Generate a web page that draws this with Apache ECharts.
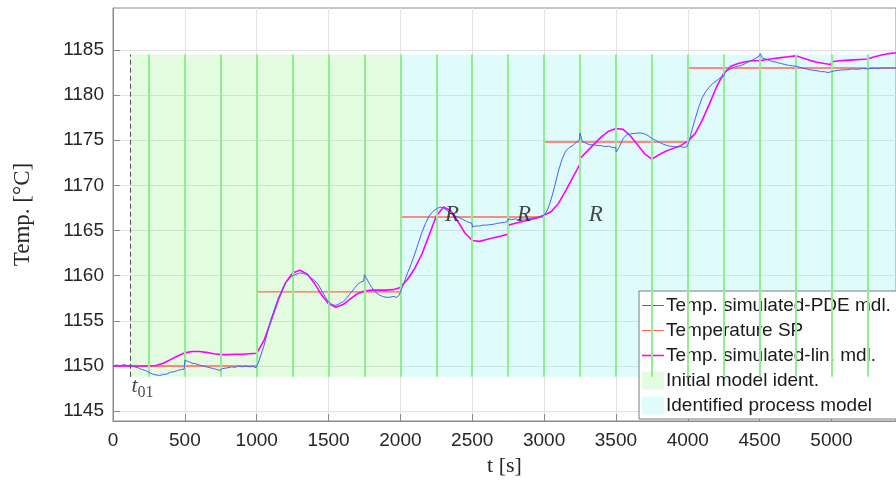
<!DOCTYPE html>
<html>
<head>
<meta charset="utf-8">
<script src="https://cdn.jsdelivr.net/npm/echarts@6/dist/echarts.min.js"></script>
<style>
html,body{margin:0;padding:0;background:#fff;}
#chart{width:896px;height:482px;}
</style>
</head>
<body>
<div id="chart"></div>
<script>
// ---- tick labels ----
const timeTicks = [0, 500, 1000, 1500, 2000, 2500, 3000, 3500, 4000, 4500, 5000];
const tempTicks = [1145, 1150, 1155, 1160, 1165, 1170, 1175, 1180, 1185];

// ---- PDE-model simulation (blue) ----
const pdeTime = [0,25,50,75,100,125,150,175,200,225,250,275,300,325,350,375,400,425,450,475,495,500,525,550,575,600,625,650,675,700,725,745,760,780,800,825,850,875,900,925,950,975,995,
1010,1050,1100,1150,1200,1250,1300,1325,1350,1375,1400,1425,1450,1475,1500,1525,1550,1575,1600,1625,1650,1675,1700,1725,1745,1750,1775,1800,1825,1850,1875,1900,1925,1950,1975,1990,
2000,2025,2050,2075,2100,2125,2150,2175,2200,2225,2250,2275,2300,2325,2350,2375,2400,2425,2450,2475,2498,2502,2525,2550,2575,2600,2625,2650,2675,2700,2725,2745,2750,2775,2800,2825,2850,2875,2900,2925,2950,2975,
3000,3025,3050,3075,3100,3125,3150,3175,3200,3225,3245,3250,3265,3275,3300,3325,3350,3375,3400,3425,3450,3475,3498,3502,3525,3550,3575,3600,3625,3650,3675,3700,3725,3750,3775,3800,3825,3850,3875,3900,3925,3950,3975,3995,
4010,4025,4050,4075,4100,4125,4150,4175,4200,4225,4250,4262,4275,4300,4325,4350,4375,4400,4425,4450,4475,4495,4505,4520,4540,4575,4600,4625,4650,4675,4700,4725,4750,4775,4800,4825,4850,4875,4900,4925,4950,4975,
5000,5025,5050,5075,5100,5125,5150,5175,5200,5225,5250,5275,5300,5325,5350,5375,5400,5449];
const pdeTemp = [1150.0,1150.1,1150.0,1150.15,1150.05,1150.1,1149.9,1149.8,1149.6,1149.5,1149.3,1149.1,1149.0,1148.95,1149.05,1149.1,1149.3,1149.35,1149.5,1149.6,1149.65,1150.6,1150.5,1150.3,1150.25,1150.1,1150.0,1149.9,1149.8,1149.7,1149.6,1149.5,1149.7,1149.75,1149.8,1149.9,1149.85,1150.0,1149.9,1150.0,1149.9,1149.95,1149.8,
1150.3,1152.2,1155.2,1157.5,1159.2,1160.0,1160.3,1160.25,1160.1,1159.8,1159.5,1159.1,1158.4,1157.7,1157.1,1156.8,1156.7,1156.9,1157.1,1157.5,1158.0,1158.5,1159.0,1159.3,1159.4,1160.1,1159.4,1158.7,1158.2,1157.9,1157.7,1157.6,1157.6,1157.7,1157.6,1157.8,
1158.2,1159.2,1160.3,1161.3,1162.4,1163.6,1164.8,1165.8,1166.6,1167.1,1167.4,1167.6,1167.5,1167.2,1166.9,1166.6,1166.5,1166.3,1166.1,1165.9,1165.8,1165.4,1165.5,1165.5,1165.6,1165.6,1165.65,1165.7,1165.8,1165.85,1165.9,1166.0,1166.3,1166.2,1166.3,1166.2,1166.3,1166.25,1166.3,1166.4,1166.45,1166.55,
1166.7,1167.3,1168.5,1170.0,1171.6,1172.9,1173.8,1174.2,1174.4,1174.8,1175.0,1175.8,1174.9,1174.7,1174.6,1174.5,1174.5,1174.4,1174.4,1174.3,1174.35,1174.2,1174.2,1173.7,1174.3,1175.2,1175.6,1175.7,1175.75,1175.8,1175.8,1175.7,1175.5,1175.2,1175.0,1174.8,1174.6,1174.45,1174.35,1174.3,1174.25,1174.3,1174.2,1174.3,
1174.9,1175.9,1177.3,1178.6,1179.7,1180.4,1180.9,1181.3,1181.6,1181.9,1182.1,1182.6,1182.7,1182.9,1183.1,1183.2,1183.3,1183.5,1183.7,1183.9,1184.1,1184.3,1184.6,1184.1,1184.0,1183.8,1183.7,1183.6,1183.5,1183.4,1183.3,1183.25,1183.2,1183.1,1183.0,1182.9,1182.8,1182.75,1182.7,1182.6,1182.6,1182.5,
1182.6,1182.7,1182.75,1182.8,1182.8,1182.85,1182.9,1182.85,1182.9,1182.95,1182.9,1182.95,1183.0,1182.95,1183.0,1183.0,1183.0,1183.0];

// ---- linear-model simulation (magenta) ----
const linTime = [0,250,300,350,400,450,500,550,600,650,700,750,800,850,900,950,1000,1050,1100,1150,1200,1250,1300,1350,1400,1450,1500,1550,1600,1650,1700,1750,1800,1850,1900,1950,
2000,2050,2100,2150,2200,2250,2300,2350,2400,2450,2500,2550,2600,2650,2700,2748,2752,2800,2850,2900,2950,
3000,3050,3100,3150,3200,3248,3252,3300,3350,3400,3450,3500,3550,3600,3650,3700,3750,3760,3800,3850,3900,3950,
4000,4050,4100,4150,4200,4250,4300,4350,4400,4450,4500,4550,4600,4650,4700,4750,4800,4850,4900,4950,4995,5005,5050,5100,5150,5200,5250,5300,5350,5400,5449];
const linTemp = [1150.0,1150.0,1150.05,1150.3,1150.7,1151.1,1151.45,1151.6,1151.6,1151.5,1151.35,1151.25,1151.25,1151.3,1151.3,1151.35,1151.4,1152.8,1155.0,1157.3,1159.2,1160.3,1160.6,1160.2,1159.2,1157.9,1156.9,1156.5,1156.8,1157.4,1158.0,1158.3,1158.4,1158.4,1158.4,1158.45,
1158.7,1159.6,1160.8,1162.4,1164.5,1166.6,1167.6,1167.2,1166.0,1164.7,1163.9,1163.8,1164.0,1164.2,1164.4,1164.6,1165.6,1165.8,1166.0,1166.2,1166.4,
1166.7,1167.1,1168.0,1169.4,1170.9,1172.3,1173.0,1173.8,1174.6,1175.4,1176.0,1176.3,1176.2,1175.5,1174.5,1173.5,1172.9,1173.0,1173.4,1173.8,1174.1,1174.4,
1174.9,1175.7,1177.2,1179.0,1180.9,1182.4,1183.2,1183.5,1183.7,1183.8,1183.8,1183.95,1184.05,1184.15,1184.25,1184.35,1184.1,1183.85,1183.65,1183.5,1183.4,1183.7,1183.8,1183.85,1183.9,1183.95,1184.0,1184.25,1184.45,1184.6,1184.7];

// ---- temperature set point (red) ----
const spStart = [0, 1000, 2000, 3000, 4000];
const spEnd = [1000, 2000, 3000, 4000, 5449];
const spLevel = [1150.0, 1158.2, 1166.5, 1174.8, 1183.0];

// ---- identification windows ----
const t01 = 120;
const initWindow = [120, 2000];
const identWindow = [2000, 5449];
const windowTemp = [1148.8, 1184.5];
const stepTimes = [250,500,750,1000,1250,1500,1750,2000,2250,2500,2750,3000,3250,3500,3750,4000,4250,4500,4750,5000,5250];

// ---- annotations ----
const annoTime = [2359, 2861, 3360];
const annoTemp = [1166.7, 1166.7, 1166.7];
const annoText = ['R', 'R', 'R'];
const t01LabelPos = [205, 1147.8];

const X_MIN = 0, X_MAX = 5449, Y_MIN = 1143.9, Y_MAX = 1189.65;

function pairs(a, b) { return a.map((t, i) => [t, b[i]]); }
const spData = [];
spStart.forEach((s, i) => {
  spData.push([s, spLevel[i]]);
  spData.push([spEnd[i], spLevel[i]]);
  if (i < spStart.length - 1) spData.push([spEnd[i], null]);
});

const stepLines = stepTimes.map(t => [
  {coord: [t, windowTemp[0]]}, {coord: [t, windowTemp[1]]}
]);

const sansFont = 'Liberation Sans';
const serifFont = 'Liberation Serif';
// legend line icons: thin bar in the middle, bounded by hairline marks so it is not stretched
const thinLine = 'path://M0,0L22,0L22,0.01L0,0.01Z M0,8.4L22,8.4L22,9.6L0,9.6Z M0,17.99L22,17.99L22,18L0,18Z';
const thickLine = 'path://M0,0L22,0L22,0.01L0,0.01Z M0,8.2L22,8.2L22,9.8L0,9.8Z M0,17.99L22,17.99L22,18L0,18Z';
const plainNum = v => String(v);

const chart = echarts.init(document.getElementById('chart'), null, {renderer: 'canvas'});
chart.setOption({
  animation: false,
  backgroundColor: '#ffffff',
  grid: {left: 113, right: -1, top: 8, bottom: 61, show: true, borderColor: '#8a8a8a', borderWidth: 1, containLabel: false},
  xAxis: {
    type: 'value', min: X_MIN, max: X_MAX,
    name: 't [s]', nameLocation: 'middle', nameGap: 33,
    nameTextStyle: {fontFamily: serifFont, fontSize: 22, color: '#262626'},
    axisLine: {show: true, lineStyle: {color: '#8a8a8a', width: 1}},
    axisTick: {show: true, inside: true, length: 7, customValues: timeTicks, lineStyle: {color: '#8a8a8a'}},
    axisLabel: {customValues: timeTicks, formatter: plainNum, fontFamily: sansFont, fontSize: 19, color: '#262626', margin: 10},
    splitLine: {show: true, lineStyle: {color: '#e3e3e3', width: 1}}
  },
  yAxis: {
    type: 'value', min: Y_MIN, max: Y_MAX,
    name: 'Temp. [°C]', nameLocation: 'middle', nameGap: 79,
    nameTextStyle: {fontFamily: serifFont, fontSize: 23, color: '#262626'},
    axisLine: {show: true, lineStyle: {color: '#8a8a8a', width: 1}},
    axisTick: {show: true, inside: true, length: 7, customValues: tempTicks, lineStyle: {color: '#8a8a8a'}},
    axisLabel: {customValues: tempTicks, formatter: plainNum, fontFamily: sansFont, fontSize: 19, color: '#262626', margin: 9},
    splitLine: {show: true, lineStyle: {color: '#e3e3e3', width: 1}}
  },
  legend: {
    orient: 'vertical', left: 639, top: 291,
    padding: [5, 40, 4, 3], itemGap: 6, itemWidth: 22, itemHeight: 18,
    backgroundColor: '#ffffff', borderColor: '#7a7a7a', borderWidth: 1,
    textStyle: {fontFamily: sansFont, fontSize: 19, color: '#1a1a1a', padding: [0, 0, 0, -3]},
    data: [
      {name: 'Temp. simulated-PDE mdl.', icon: thinLine},
      {name: 'Temperature SP', icon: thinLine},
      {name: 'Temp. simulated-lin. mdl.', icon: thickLine},
      {name: 'Initial model ident.', icon: 'rect'},
      {name: 'Identified process model', icon: 'rect'}
    ],
    selectedMode: false
  },
  series: [
    {
      name: 'Initial model ident.', type: 'line', data: [], z: 1, color: '#e3fcdf',
      markArea: {silent: true, itemStyle: {color: 'rgba(100,240,80,0.18)'},
        data: [[{coord: [initWindow[0], windowTemp[0]]}, {coord: [initWindow[1], windowTemp[1]]}]]}
    },
    {
      name: 'Identified process model', type: 'line', data: [], z: 1, color: '#dffbfb',
      markArea: {silent: true, itemStyle: {color: 'rgba(80,235,235,0.18)'},
        data: [[{coord: [identWindow[0], windowTemp[0]]}, {coord: [identWindow[1], windowTemp[1]]}]]}
    },
    {
      name: 'steps', type: 'line', data: [], z: 2,
      markLine: {silent: true, symbol: ['none', 'none'], label: {show: false},
        lineStyle: {color: '#93ec93', width: 2, type: 'solid'}, data: stepLines}
    },
    {
      name: 't01', type: 'line', data: [], z: 2,
      markLine: {silent: true, symbol: ['none', 'none'], label: {show: false},
        lineStyle: {color: '#4d4d4d', width: 1, type: [5, 3]},
        data: [[{coord: [t01, windowTemp[0]]}, {coord: [t01, windowTemp[1]]}]]}
    },
    {
      name: 'Temperature SP', type: 'line', data: spData, z: 3, symbol: 'none',
      color: '#ff6a5a', lineStyle: {width: 1.4, color: '#ff6a5a'}, connectNulls: false
    },
    {
      name: 'Temp. simulated-lin. mdl.', type: 'line', data: pairs(linTime, linTemp), z: 4, symbol: 'none',
      color: '#ff00ff', lineStyle: {width: 1.6, color: '#ff00ff'}
    },
    {
      name: 'Temp. simulated-PDE mdl.', type: 'line', data: pairs(pdeTime, pdeTemp), z: 5, symbol: 'none',
      color: '#4860f2', lineStyle: {width: 1, color: '#4860f2'}
    },
    {
      name: 'annotations', type: 'scatter', z: 6, symbolSize: 0, silent: true,
      data: annoTime.map((t, i) => ({value: [t, annoTemp[i]], name: annoText[i]})),
      label: {show: true, position: 'inside', formatter: p => p.name,
        fontFamily: serifFont, fontStyle: 'italic', fontSize: 23, color: '#1a1a1a'}
    },
    {
      name: 't01label', type: 'scatter', z: 6, symbolSize: 0, silent: true,
      data: [{value: t01LabelPos}],
      label: {show: true, position: 'inside', formatter: '{t|t}{s|01}',
        rich: {
          t: {fontFamily: serifFont, fontStyle: 'italic', fontSize: 22, color: '#1a1a1a', verticalAlign: 'bottom'},
          s: {fontFamily: serifFont, fontSize: 16, color: '#1a1a1a', verticalAlign: 'bottom', padding: [0, 0, -4, 0]}
        }}
    }
  ]
});
</script>
</body>
</html>
